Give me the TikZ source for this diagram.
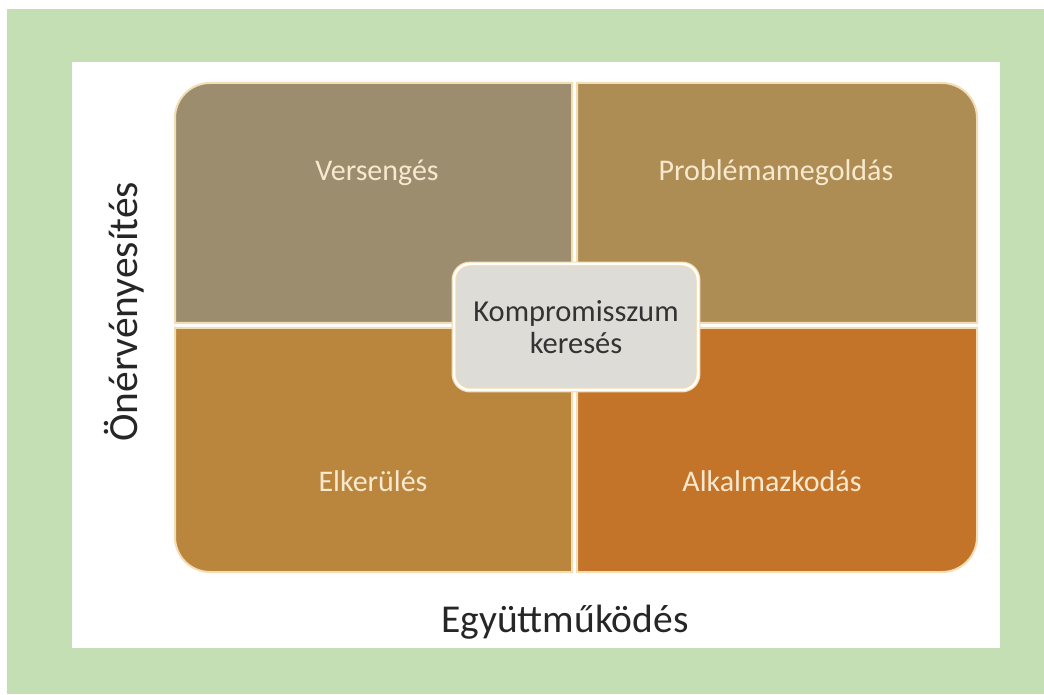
\documentclass[tikz,border=0pt]{standalone}
\usepackage{fontspec}
\setmainfont{Carlito}
\definecolor{bggreen}{HTML}{C4DFB4}
\definecolor{qtl}{HTML}{9D8D6F}
\definecolor{qtr}{HTML}{AE8D55}
\definecolor{qbl}{HTML}{BA853D}
\definecolor{qbr}{HTML}{C37429}
\definecolor{cream}{HTML}{F2DDB4}
\definecolor{labcol}{HTML}{F7E9CF}
\definecolor{centfill}{HTML}{DEDCD7}
\definecolor{darktext}{HTML}{333333}
\tikzset{
  quad/.style={draw=cream, line width=2pt},
  qlabel/.style={text=labcol, font=\fontsize{30}{34}\selectfont, inner sep=0pt},
  axislabel/.style={text=black!85, inner sep=0pt},
  centbox/.style={draw=cream, double=white, double distance=2.5pt, line width=1.2pt, fill=centfill, rounded corners=16pt, minimum width=244pt, minimum height=126pt, align=center, text=darktext, font=\fontsize{30.5}{34}\selectfont}
}
\begin{document}
\begin{tikzpicture}[x=1pt,y=1pt]
\useasboundingbox (0,0) rectangle (1044,694);
\fill[white] (0,0) rectangle (1044,694);
\fill[bggreen] (7,0) rectangle (1044,685);
\fill[white] (72,46) rectangle (1000,632);
% quadrants
\path[quad, fill=qtl] (572,371) -- (175,371) -- (175,576) arc[start angle=180, end angle=90, radius=35] -- (572,611) -- cycle;
\path[quad, fill=qtr] (577,371) -- (577,611) -- (942,611) arc[start angle=90, end angle=0, radius=35] -- (977,371) -- cycle;
\path[quad, fill=qbl] (572,366) -- (175,366) -- (175,157) arc[start angle=180, end angle=270, radius=35] -- (572,122) -- cycle;
\path[quad, fill=qbr] (577,366) -- (977,366) -- (977,157) arc[start angle=0, end angle=-90, radius=35] -- (577,122) -- cycle;
% labels
\node[qlabel] (vers) at (377,521) {Versengés};
\node[qlabel] (prob) at (776,521) {Problémamegoldás};
\node[qlabel] (elk) at (373,213) {Elkerülés};
\node[qlabel] (alk) at (772,213) {Alkalmazkodás};
\node[centbox] (komp) at (576,367) {Kompromisszum\\[-2pt]keresés};
\node[axislabel, rotate=90, font=\fontsize{41.5}{45}\selectfont] (onerv) at (124,382) {Önérvényesítés};
\node[axislabel, font=\fontsize{39.5}{43}\selectfont] (egyutt) at (565,72) {Együttműködés};
\end{tikzpicture}
\end{document}
